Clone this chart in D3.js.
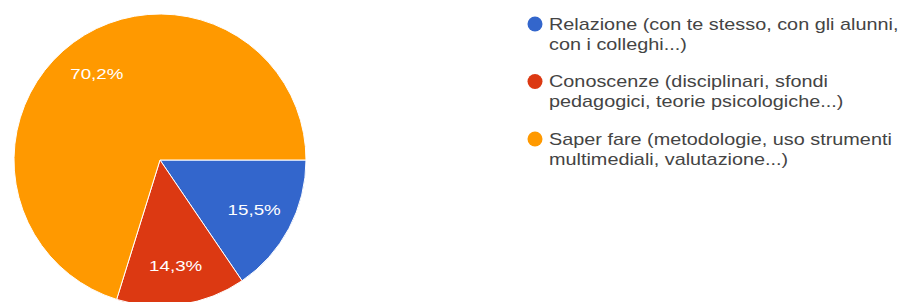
<!DOCTYPE html>
<html>
<head>
<meta charset="utf-8">
<script src="https://cdn.jsdelivr.net/npm/d3@7"></script>
<style>
  body { margin: 0; background: #fff; }
  svg { display: block; font-family: Arial, "Liberation Sans", sans-serif; }
</style>
</head>
<body>
<div id="chart"></div>
<script>
// data
const categories = ['Relazione', 'Conoscenze', 'Saper fare']
const values = [15.5, 14.3, 70.2]
const valueLabels = ['15,5%', '14,3%', '70,2%']
const legendLines = [
	['Relazione (con te stesso, con gli alunni,', 'con i colleghi...)'],
	['Conoscenze (disciplinari, sfondi', 'pedagogici, teorie psicologiche...)'],
	['Saper fare (metodologie, uso strumenti', 'multimediali, valutazione...)']
]
const colors = ['#3366cc', '#dc3912', '#ff9900']

const width = 902
const height = 302
const cx = 160, cy = 160, radius = 146
// the reference screenshot has its text stretched sideways
const stretch = 1.25

const svg = d3.select('#chart').append('svg')
	.attr('width', width)
	.attr('height', height)

const pie = d3.pie()
	.sort(null)
	.value(d => d)
	.startAngle(Math.PI / 2)
	.endAngle(Math.PI / 2 + 2 * Math.PI)

const arcs = pie(values)

const arc = d3.arc().innerRadius(0).outerRadius(radius)
const labelArc = d3.arc().innerRadius(radius * 0.73).outerRadius(radius * 0.73)

const pad = svg.append('g')
	.attr('transform', `translate(${cx},${cy})`)

pad.selectAll('path.slice')
	.data(arcs)
	.enter().append('path')
	.attr('class', 'slice')
	.attr('d', arc)
	.style('fill', (d, i) => colors[i])
	.style('stroke', '#fff')
	.style('stroke-width', 1)

pad.selectAll('text.pct')
	.data(arcs)
	.enter().append('text')
	.attr('class', 'pct')
	.attr('transform', d => `translate(${labelArc.centroid(d)}) scale(${stretch},1)`)
	.attr('text-anchor', 'middle')
	.attr('dy', '0.35em')
	.style('fill', '#fff')
	.style('font-size', '15px')
	.text((d, i) => valueLabels[i])

// *** legend ***
const legend = svg.append('g')
	.attr('transform', 'translate(535,24)')

const item = legend.selectAll('g.item')
	.data(categories)
	.enter().append('g')
	.attr('class', 'item')
	.attr('transform', (d, i) => `translate(0,${i * 57.5})`)

item.append('circle')
	.attr('r', 7.5)
	.style('fill', (d, i) => colors[i])

item.append('text')
	.attr('transform', `translate(14,0) scale(${stretch - 0.01},1)`)
	.attr('dy', '0.35em')
	.style('fill', '#444')
	.style('font-size', '16px')
	.selectAll('tspan')
	.data((d, i) => legendLines[i])
	.enter().append('tspan')
	.attr('x', 0)
	.attr('y', (d, j) => j * 26)
	.text(d => d)
</script>
</body>
</html>
